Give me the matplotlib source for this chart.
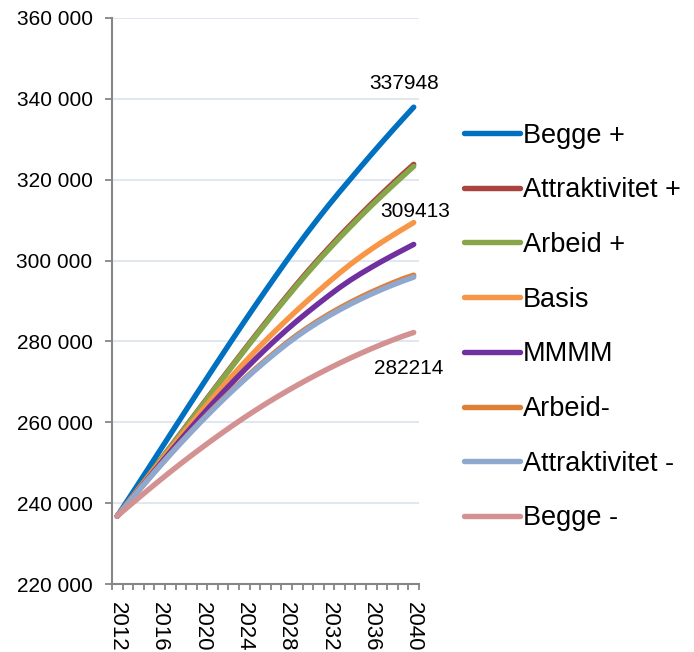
import matplotlib
matplotlib.use("Agg")
import matplotlib.pyplot as plt
from matplotlib.ticker import FixedLocator, FuncFormatter

plt.rcParams["font.family"] = ["Liberation Sans", "DejaVu Sans"]

years = list(range(2012, 2041))

begge_pluss = [236800, 240800, 244820, 248860, 252910, 256960, 261010, 265050,
               269070, 273070, 277050, 281000, 284900, 288750, 292550, 296300,
               300000, 303600, 307100, 310500, 313800, 317000, 320100, 323200,
               326250, 329250, 332200, 335100, 337948]
attraktivitet_pluss = [236800, 240170, 243570, 246980, 250420, 253860, 257320,
                       260780, 264240, 267690, 271130, 274550, 277950, 281320,
                       284640, 287910, 291130, 294300, 297370, 300340, 303210,
                       306030, 308750, 311420, 314040, 316560, 319030, 321450,
                       323800]
arbeid_pluss = [236800, 240150, 243530, 246930, 250350, 253780, 257220, 260660,
                264100, 267530, 270950, 274350, 277730, 281080, 284380, 287630,
                290830, 293980, 297030, 299980, 302830, 305630, 308330, 310980,
                313580, 316080, 318530, 320930, 323300]
basis = [236800, 240100, 243420, 246740, 250040, 253320, 256570, 259770, 262920,
         266000, 269000, 271920, 274760, 277520, 280200, 282800, 285320, 287770,
         290150, 292470, 294730, 296930, 299030, 300980, 302830, 304580, 306230,
         307830, 309413]
mmmm = [236800, 240000, 243200, 246380, 249530, 252650, 255730, 258760, 261730,
        264630, 267460, 270220, 272910, 275530, 278080, 280530, 282880, 285130,
        287280, 289360, 291380, 293330, 295130, 296780, 298330, 299830, 301250,
        302630, 304000]
arbeid_minus = [236800, 239970, 243090, 246150, 249160, 252110, 254990, 257800,
                260540, 263210, 265800, 268310, 270740, 273090, 275360, 277550,
                279660, 281630, 283450, 285150, 286740, 288230, 289630, 290950,
                292190, 293360, 294460, 295490, 296400]
attraktivitet_minus = [236800, 239950, 243050, 246100, 249090, 252020, 254880,
                       257670, 260390, 263040, 265610, 268100, 270510, 272840,
                       275090, 277260, 279350, 281300, 283100, 284780, 286350,
                       287820, 289200, 290500, 291720, 292870, 293950, 294960,
                       295900]
begge_minus = [236800, 239050, 241270, 243460, 245610, 247720, 249780, 251790,
               253750, 255670, 257550, 259380, 261160, 262880, 264540, 266140,
               267680, 269170, 270610, 272000, 273340, 274630, 275870, 277060,
               278200, 279290, 280330, 281320, 282214]

series = [
    ("Begge +", begge_pluss, "#0070C0"),
    ("Attraktivitet +", attraktivitet_pluss, "#A8433F"),
    ("Arbeid +", arbeid_pluss, "#87A64A"),
    ("Basis", basis, "#F79646"),
    ("MMMM", mmmm, "#7030A0"),
    ("Arbeid-", arbeid_minus, "#DE7F35"),
    ("Attraktivitet -", attraktivitet_minus, "#8EA8D0"),
    ("Begge -", begge_minus, "#D39191"),
]

# values written next to the line ends: (series index, dx px, dy px)
end_labels = [(0, -10, 24), (3, 1, 11), (7, -5, -36)]

label_years = [2012, 2016, 2020, 2024, 2028, 2032, 2036, 2040]
y_ticks = list(range(220000, 360001, 20000))

fig = plt.figure(figsize=(6.94, 6.52), dpi=100)
ax = fig.add_axes([112 / 694, 1 - 584 / 652, 307 / 694, 566 / 652])

x = list(range(len(years)))
handles = []
for name, values, color in series:
    (line,) = ax.plot(x, values, color=color, lw=3.9, solid_capstyle="round",
                      label=name, zorder=3)
    handles.append(line)

for idx, dx, dy in end_labels:
    values = series[idx][1]
    ax.annotate(str(values[-1]), (x[-1], values[-1]), xytext=(dx, dy),
                textcoords="offset pixels", ha="center", va="center",
                fontsize=15, color="black", zorder=4)

ax.set_xlim(-0.5, len(years) - 0.5)
ax.set_ylim(y_ticks[0], y_ticks[-1])

ax.set_yticks(y_ticks)
ax.yaxis.set_major_formatter(FuncFormatter(lambda v, p: f"{int(v):,}".replace(",", " ")))
ax.grid(axis="y", color="#DCE3EF", lw=1.2, zorder=0)
ax.set_axisbelow(True)

ax.set_xticks([years.index(y) for y in label_years])
ax.set_xticklabels([str(y) for y in label_years], rotation=270, va="top", ha="center")
ax.xaxis.set_minor_locator(FixedLocator([i - 0.5 for i in range(len(years) + 1)]))

ax.tick_params(axis="x", which="major", length=0, pad=13, labelsize=16)
ax.tick_params(axis="x", which="minor", length=4, width=1.3, color="#868686",
               direction="out")
ax.tick_params(axis="y", length=5, width=1.3, color="#868686", pad=9,
               labelsize=15)

for side in ("top", "right"):
    ax.spines[side].set_visible(False)
for side in ("left", "bottom"):
    ax.spines[side].set_color("#868686")
    ax.spines[side].set_linewidth(1.5)

fig.legend(handles=handles, loc="center left",
           bbox_to_anchor=(464 / 694, 1 - 327 / 652), frameon=False,
           fontsize=19.5, handlelength=2.05, handletextpad=0.12,
           labelspacing=1.06, borderpad=0, borderaxespad=0)

fig.savefig("out.png", dpi=100)
